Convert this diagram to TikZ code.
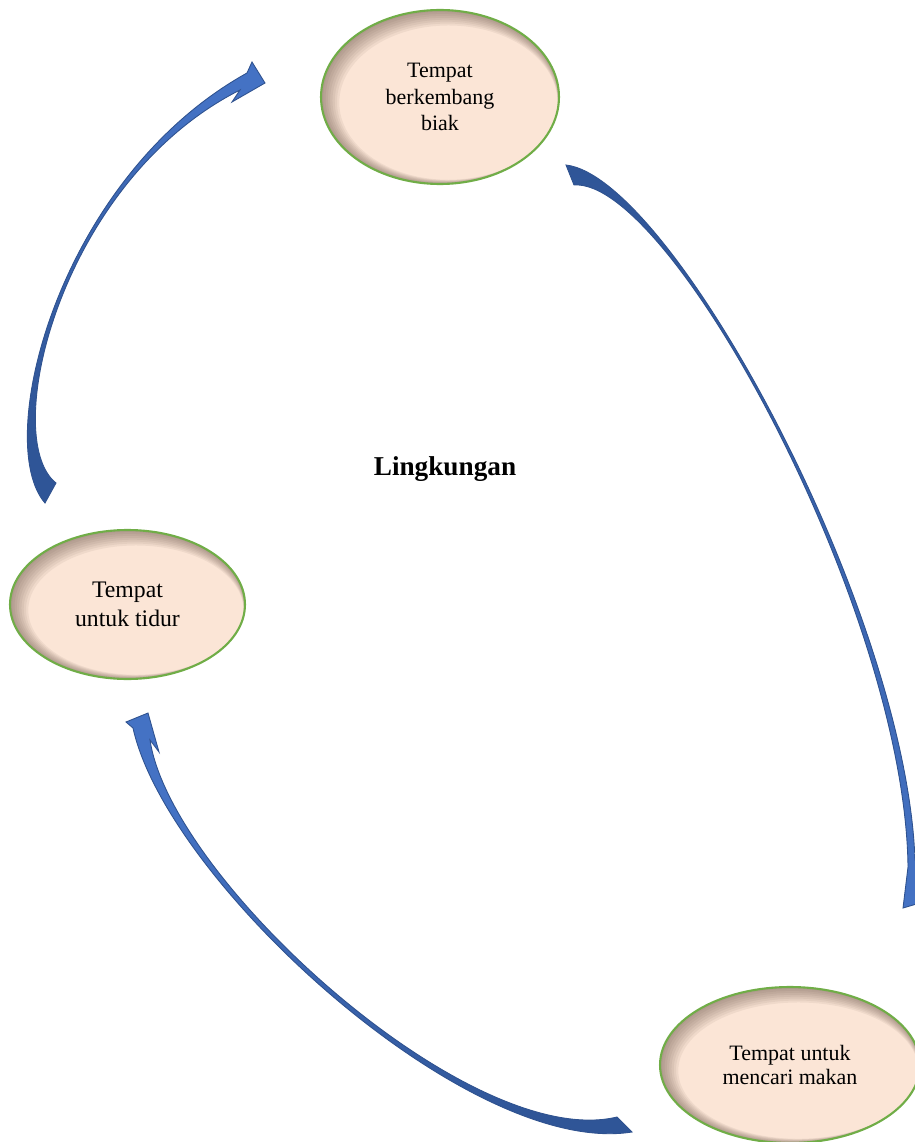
\documentclass[tikz,border=0pt]{standalone}
\usepackage{fontspec}
\setmainfont{Liberation Serif}
\usepackage{xcolor}
\usepackage{tikz}
\usetikzlibrary{positioning, shapes.geometric, calc}
\definecolor{peach}{RGB}{251, 229, 214}
\definecolor{leaf}{RGB}{112, 173, 71}
\definecolor{shadowtone}{RGB}{88, 66, 56}
\definecolor{bandlight}{RGB}{68, 114, 196}
\definecolor{banddark}{RGB}{47, 85, 151}
\definecolor{bandedge}{RGB}{47, 82, 143}

\begin{document}
\begin{tikzpicture}[
        x=0.02cm, y=-0.02cm,
        habitat/.style={ellipse, draw=leaf, line width=1.2pt, fill=peach, align=center, inner sep=0pt,
            path picture={
                \foreach \k in {1,...,8}{
                    \fill[shadowtone, opacity=0.07, even odd rule]
                        let \p1=($(path picture bounding box.north east)-(path picture bounding box.center)$) in
                        (path picture bounding box.south west) rectangle (path picture bounding box.north east)
                        ([shift={(\k*0.6pt,-\k*0.4pt)}]path picture bounding box.center)
                        ellipse [x radius=\x1-\k*0.7pt, y radius=\y1-\k*0.7pt];
                }
            }},
        curvearrow/.style={draw=bandedge, line width=0.5pt, top color=bandlight, bottom color=banddark, shading angle=#1}
    ]

        \useasboundingbox (0,0) rectangle (915,1142);
        \clip (0,0) rectangle (915,1142);

        \node (breed) [habitat, minimum width=4.76cm, minimum height=3.48cm, font=\fontsize{12.5}{15.2}\selectfont] at (440,97) {Tempat\\berkembang\\biak};
        \node (sleep) [habitat, minimum width=4.7cm, minimum height=2.98cm, font=\fontsize{13.5}{16.5}\selectfont] at (127.5,604.5) {Tempat\\untuk tidur};
        \node (food) [habitat, minimum width=5.2cm, minimum height=3.12cm, font=\fontsize{12.5}{14.2}\selectfont] at (790,1065) {Tempat untuk\\mencari makan};

        \node (env) at (445,469) {\fontsize{15.5}{18}\selectfont\bfseries Lingkungan};

        % sleep -> breed
        \draw[curvearrow=-45] (45,503) .. controls (-8,442) and (58,178) .. (247,73) -- (252,62) -- (265,83) -- (232,102) -- (240,90) .. controls (60,181) and (-1,438) .. (56,483) -- cycle;
        % breed -> food
        \draw[curvearrow=180] (566,165) .. controls (671,177) and (906,609) .. (915,860) -- (927,856) -- (930,900) -- (903,908) -- (908,867) .. controls (905,610) and (670,178) .. (574,185) -- cycle;
        % food -> sleep
        \draw[curvearrow=45] (632,1132) .. controls (469,1158) and (167,882) .. (133,728) -- (126,722) -- (148,713) -- (159,752) -- (150,740) .. controls (171,880) and (471,1152) .. (617,1117) -- cycle;
    \end{tikzpicture}
\end{document}
